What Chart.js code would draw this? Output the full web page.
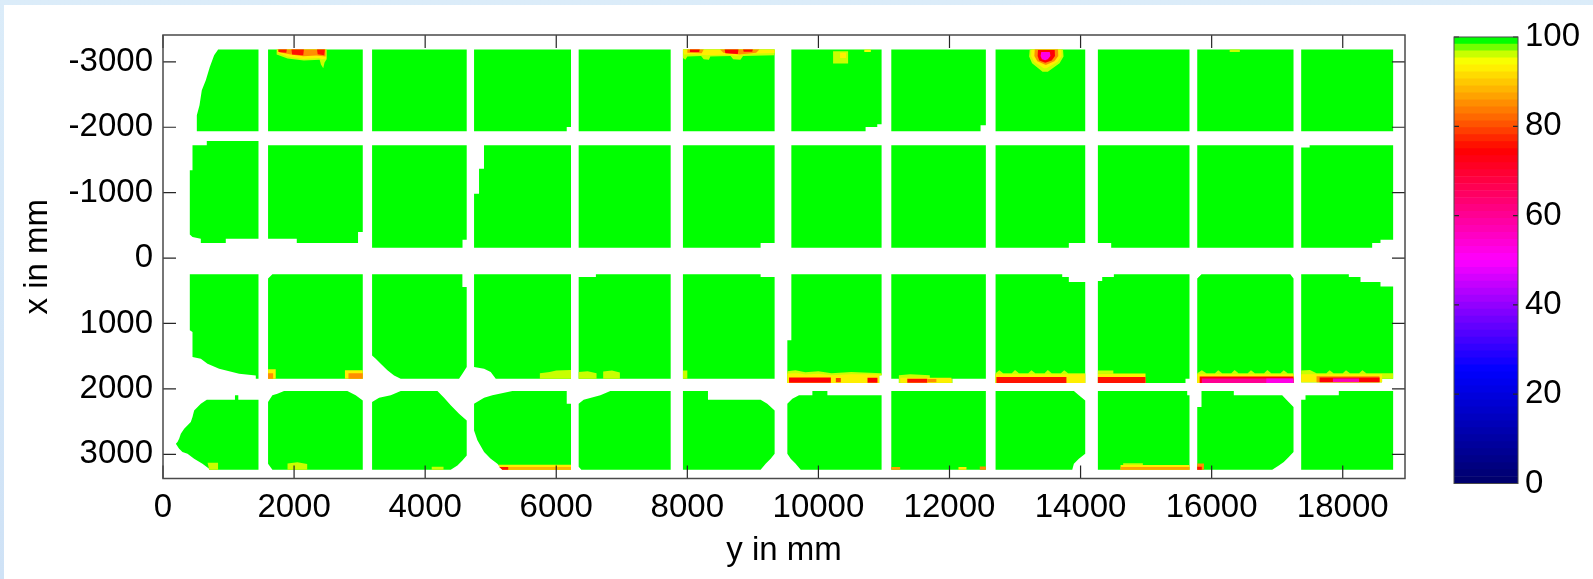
<!DOCTYPE html>
<html>
<head>
<meta charset="utf-8">
<script src="https://cdn.jsdelivr.net/npm/chart.js@4.4.1/dist/chart.umd.min.js"></script>
<style>
  html, body { margin: 0; padding: 0; }
  body {
    width: 1593px; height: 579px; overflow: hidden; position: relative;
    background: linear-gradient(180deg, #dbecf9 0%, #cfe2f6 100%);
  }
  #paper { position: absolute; left: 4px; top: 5px; right: 0; bottom: 0; background: #fff; }
  #map { position: absolute; left: 0; top: 0; }
  #cbar { position: absolute; left: 1440px; top: 0; }
</style>
</head>
<body>
<div id="paper"></div>
<canvas id="map" width="1440" height="579"></canvas>
<canvas id="cbar" width="153" height="579"></canvas>
<script>
// axes (mm): horizontal = y, vertical = x
const xTicks = [0, 2000, 4000, 6000, 8000, 10000, 12000, 14000, 16000, 18000];
const yTicks = [-3000, -2000, -1000, 0, 1000, 2000, 3000];
const cbarTicks = [0, 20, 40, 60, 80, 100];

// colormap
const cmapValues = [0, 25, 38, 50, 62, 75, 81, 88, 95, 97.5, 100];
const cmapColors = ['#00006e', '#0000ff', '#8000ff', '#ff00ff', '#ff0080', '#ff0000',
                    '#ff5500', '#ffaa00', '#ffff00', '#b4ff00', '#00ff00'];
const cmapLevels = 64;

// panel outlines, flat lists of (y, x) pairs in mm, value 100 everywhere
const row1Panels = [
  [841,-3190, 1457,-3190, 1457,-1937, 516,-1937, 516,-2182, 557,-2335, 592,-2564, 653,-2717, 714,-2921, 780,-3099],
  [1603,-3190, 3048,-3190, 3048,-1937, 1603,-1937],
  [3190,-3190, 4634,-3190, 4634,-1937, 3190,-1937],
  [4746,-3190, 6225,-3190, 6225,-2003, 6160,-2003, 6160,-1937, 4746,-1937],
  [6342,-3190, 7746,-3190, 7746,-1937, 6342,-1937],
  [7933,-3190, 9332,-3190, 9332,-1937, 7933,-1937],
  [9587,-3190, 10964,-3190, 10964,-2044, 10898,-2044, 10898,-2003, 10720,-2003, 10720,-1937, 9587,-1937],
  [11112,-3190, 12555,-3190, 12555,-2030, 12474,-2030, 12474,-1937, 11112,-1937],
  [12703,-3190, 14071,-3190, 14071,-1937, 12703,-1937],
  [14264,-3190, 15662,-3190, 15662,-1937, 14264,-1937],
  [15780,-3190, 17249,-3190, 17249,-1937, 15780,-1937],
  [17366,-3190, 18769,-3190, 18769,-1937, 17366,-1937]
];
const row2Panels = [
  [668,-1789, 1457,-1789, 1457,-296, 958,-296, 958,-229, 577,-229, 577,-296, 450,-321, 409,-362, 409,-1341, 450,-1341, 450,-1723, 668,-1723],
  [1603,-1723, 3048,-1723, 3048,-398, 2976,-398, 2976,-229, 2041,-229, 2041,-296, 1603,-296],
  [3190,-1723, 4634,-1723, 4634,-281, 4570,-281, 4570,-159, 3190,-159],
  [4898,-1723, 6225,-1723, 6225,-159, 4746,-159, 4746,-985, 4822,-985, 4822,-1367, 4898,-1367],
  [6342,-1723, 7746,-1723, 7746,-159, 6342,-159],
  [7933,-1723, 9332,-1723, 9332,-229, 9118,-229, 9118,-159, 7933,-159],
  [9587,-1723, 10964,-1723, 10964,-159, 9587,-159],
  [11112,-1723, 12555,-1723, 12555,-159, 11112,-159],
  [12703,-1723, 14071,-1723, 14071,-229, 13821,-229, 13821,-159, 12703,-159],
  [14264,-1723, 15662,-1723, 15662,-159, 14467,-159, 14467,-229, 14264,-229],
  [15780,-1723, 17249,-1723, 17249,-159, 15780,-159],
  [17495,-1723, 18769,-1723, 18769,-281, 18576,-281, 18576,-229, 18449,-229, 18449,-159, 17366,-159, 17366,-1690, 17495,-1690]
];
const row3Panels = [
  [409,249, 1457,249, 1457,1844, 1416,1844, 1416,1794, 1162,1768, 857,1691, 679,1615, 577,1539, 450,1514, 450,1131, 409,1105],
  [1669,249, 3048,249, 3048,1844, 1603,1844, 1603,312],
  [3190,249, 4568,249, 4568,443, 4634,443, 4634,1666, 4568,1768, 4517,1844, 3627,1844, 3526,1794, 3424,1717, 3322,1615, 3246,1539, 3190,1488],
  [4746,249, 6225,249, 6225,1844, 5077,1844, 5000,1742, 4899,1691, 4746,1666],
  [6605,249, 7746,249, 7746,1844, 6342,1844, 6342,290, 6605,290],
  [7933,249, 9118,249, 9118,290, 9332,290, 9332,1844, 7933,1844],
  [9587,249, 10964,249, 10964,1790, 10927,1790, 10927,1910, 9526,1910, 9526,1258, 9587,1258],
  [11112,249, 12555,249, 12555,1844, 12043,1844, 12043,1910, 11228,1910, 11228,1844, 11112,1844],
  [12703,249, 13720,249, 13720,290, 13821,290, 13821,367, 14071,367, 14071,1910, 12703,1910],
  [14508,249, 15662,249, 15662,1844, 15601,1844, 15601,1910, 14264,1910, 14264,350, 14330,350, 14330,290, 14508,290],
  [15845,249, 17200,249, 17249,312, 17249,1910, 15780,1910, 15780,312],
  [17366,249, 18093,249, 18093,290, 18271,290, 18271,367, 18576,367, 18576,433, 18769,433, 18769,1844, 18600,1844, 18600,1900, 17366,1900]
];
const row4Panels = [
  [668,2165, 1098,2165, 1098,2099, 1149,2099, 1149,2165, 1457,2165, 1457,3236, 704,3236, 704,3220, 602,3144, 475,3067, 374,2991, 297,2966, 246,2914, 196,2838, 221,2813, 246,2762, 272,2685, 323,2609, 424,2507, 450,2431, 475,2329, 577,2226],
  [1847,2034, 2813,2034, 2940,2099, 3048,2176, 3048,3236, 1669,3236, 1603,3144, 1603,2201, 1669,2099, 1745,2074],
  [3627,2034, 4187,2034, 4288,2135, 4390,2252, 4517,2380, 4634,2482, 4634,3017, 4568,3093, 4492,3170, 4390,3236, 3190,3236, 3190,2201, 3297,2135, 3475,2099],
  [5331,2034, 6160,2034, 6160,2226, 6225,2226, 6225,3236, 5178,3236, 5102,3144, 5000,3067, 4899,2966, 4797,2787, 4746,2635, 4746,2226, 4899,2135, 5026,2099],
  [6825,2034, 7746,2034, 7746,3236, 6383,3236, 6342,3190, 6342,2226, 6418,2165, 6673,2099],
  [7933,2034, 8315,2034, 8315,2165, 9118,2165, 9220,2226, 9332,2329, 9332,2991, 9271,3067, 9195,3144, 9118,3236, 7933,3236],
  [9704,2099, 9908,2099, 9908,2034, 10137,2034, 10137,2099, 10964,2099, 10964,3236, 9730,3236, 9653,3144, 9577,3067, 9526,2991, 9526,2226, 9602,2150],
  [11112,2034, 12555,2034, 12555,3236, 11112,3236],
  [12703,2034, 13898,2034, 13974,2099, 14071,2176, 14071,2991, 13974,3067, 13898,3144, 13873,3236, 12703,3236],
  [14264,2034, 15627,2034, 15627,2099, 15662,2099, 15662,3236, 14264,3236],
  [15845,2034, 16338,2034, 16338,2099, 17076,2099, 17152,2176, 17249,2278, 17249,2966, 17177,3042, 17101,3119, 17025,3170, 16924,3236, 15780,3236, 15780,2278, 15845,2278],
  [17940,2034, 18769,2034, 18769,3236, 17366,3236, 17366,2165, 17432,2165, 17432,2099, 17940,2099]
];

// low-value patches: [value, outline], painted in this order
const defects = [
  // panel row 1
  [97, [1734,-3190, 2497,-3190, 2497,-3040, 2465,-2990, 2445,-2900, 2410,-2960, 2390,-3030, 2150,-3020, 1900,-3050, 1734,-3110]],
  [93, [1740,-3190, 2490,-3190, 2490,-3050, 2420,-3040, 2380,-3060, 2140,-3045, 1900,-3080, 1750,-3140]],
  [86, [1750,-3190, 2480,-3190, 2480,-3080, 2340,-3095, 2140,-3085, 1950,-3110, 1760,-3150]],
  [76, [1760,-3190, 1890,-3190, 1880,-3140, 1765,-3150]],
  [76, [1960,-3190, 2150,-3190, 2140,-3100, 1970,-3110]],
  [76, [2350,-3190, 2470,-3190, 2460,-3100, 2360,-3115]],
  [97, [7933,-3190, 9332,-3190, 9332,-3100, 8850,-3090, 8810,-3030, 8700,-3040, 8660,-3090, 8350,-3080, 8330,-3030, 8250,-3040, 8210,-3090, 8000,-3080, 7970,-3030, 7933,-3060]],
  [93, [7933,-3190, 9332,-3190, 9332,-3135, 8900,-3125, 8750,-3090, 8600,-3110, 8300,-3100, 8100,-3115, 7950,-3110]],
  [86, [8000,-3190, 8250,-3190, 8220,-3130, 8000,-3140]],
  [86, [8500,-3190, 9100,-3190, 9050,-3140, 8800,-3110, 8550,-3140]],
  [75, [8040,-3190, 8190,-3190, 8180,-3150, 8040,-3150]],
  [74, [8570,-3190, 8780,-3190, 8770,-3120, 8580,-3130]],
  [75, [8850,-3190, 9000,-3190, 8990,-3155, 8860,-3155]],
  [97, [10224,-3160, 10453,-3160, 10453,-2975, 10224,-2975]],
  [94, [10330,-3140, 10420,-3140, 10420,-3060, 10330,-3060]],
  [96, [10700,-3190, 10800,-3190, 10800,-3150, 10700,-3150]],
  [97, [13224,-3190, 13732,-3190, 13740,-3080, 13680,-2980, 13500,-2850, 13420,-2850, 13260,-2980, 13215,-3080]],
  [93, [13250,-3190, 13707,-3190, 13710,-3090, 13650,-3000, 13480,-2900, 13440,-2900, 13290,-3000, 13245,-3090]],
  [86, [13301,-3190, 13656,-3190, 13660,-3090, 13600,-3010, 13470,-2950, 13340,-3010, 13295,-3090]],
  [75, [13351,-3180, 13605,-3180, 13610,-3090, 13560,-3020, 13460,-2985, 13370,-3020, 13345,-3090]],
  [52, [13400,-3150, 13530,-3150, 13540,-3090, 13500,-3040, 13460,-3025, 13410,-3040, 13390,-3090]],
  [97, [16275,-3190, 16430,-3190, 16430,-3150, 16275,-3150]],
  // panel row 3
  [93, [1603,1700, 1720,1700, 1720,1844, 1603,1844]],
  [85, [1603,1760, 1680,1760, 1680,1844, 1603,1844]],
  [93, [2776,1715, 3048,1715, 3048,1844, 2776,1844]],
  [85, [2830,1760, 3048,1760, 3048,1844, 2830,1844]],
  [97, [5750,1844, 5750,1760, 5900,1740, 6000,1720, 6225,1710, 6225,1844]],
  [97, [6342,1740, 6480,1730, 6615,1760, 6615,1844, 6342,1844]],
  [97, [6716,1735, 6850,1720, 6971,1750, 6971,1844, 6716,1844]],
  [97, [7933,1720, 8000,1720, 8000,1844, 7933,1844]],
  [97, [9526,1730, 9650,1715, 9800,1745, 10000,1730, 10200,1760, 10500,1740, 10964,1760, 10964,1790, 10927,1790, 10927,1910, 9526,1910]],
  [93, [9526,1765, 9700,1760, 9800,1780, 10000,1770, 10200,1790, 10500,1775, 10964,1780, 10964,1790, 10927,1790, 10927,1910, 9526,1910]],
  [75, [9552,1825, 10190,1825, 10190,1905, 9552,1905]],
  [80, [10266,1835, 10342,1835, 10342,1900, 10266,1900]],
  [75, [10749,1830, 10901,1830, 10901,1905, 10749,1905]],
  [97, [11228,1790, 11400,1775, 11700,1790, 11700,1844, 12043,1844, 12043,1910, 11228,1910]],
  [93, [11250,1830, 12030,1830, 12030,1905, 11250,1905]],
  [76, [11356,1845, 11661,1845, 11661,1905, 11356,1905]],
  [86, [11661,1850, 11800,1850, 11800,1900, 11661,1900]],
  [97, [12703,1760, 12760,1715, 12820,1760, 12950,1760, 13000,1712, 13060,1760, 13200,1760, 13250,1715, 13310,1760, 13450,1760, 13500,1712, 13560,1760, 13700,1760, 13750,1715, 13810,1760, 14071,1760, 14071,1910, 12703,1910]],
  [93, [12703,1775, 14071,1775, 14071,1910, 12703,1910]],
  [76, [12716,1820, 13784,1820, 13784,1910, 12716,1910]],
  [97, [14264,1720, 14500,1720, 14500,1770, 14264,1770]],
  [93, [14264,1765, 14991,1765, 14991,1910, 14264,1910]],
  [76, [14264,1820, 14991,1820, 14991,1910, 14264,1910]],
  [97, [15780,1760, 15850,1715, 15920,1760, 16050,1760, 16100,1715, 16160,1760, 16300,1760, 16350,1712, 16410,1760, 16550,1760, 16600,1715, 16660,1760, 16800,1760, 16850,1712, 16910,1760, 17050,1760, 17100,1715, 17160,1760, 17249,1760, 17249,1910, 15780,1910]],
  [93, [15780,1775, 17249,1775, 17249,1910, 15780,1910]],
  [74, [15817,1810, 17249,1810, 17249,1910, 15817,1910]],
  [60, [15850,1840, 17249,1840, 17249,1910, 15850,1910]],
  [52, [16834,1842, 17249,1842, 17249,1910, 16834,1910]],
  [97, [17366,1720, 17500,1710, 17600,1760, 17750,1760, 17800,1715, 17860,1760, 18000,1760, 18050,1715, 18110,1760, 18250,1760, 18300,1715, 18360,1760, 18769,1760, 18769,1844, 18600,1844, 18600,1900, 17366,1900]],
  [93, [17366,1775, 18600,1775, 18600,1900, 17366,1900]],
  [86, [17600,1805, 18560,1805, 18560,1900, 17600,1900]],
  [75, [17647,1825, 18563,1825, 18563,1900, 17647,1900]],
  [57, [17850,1840, 18250,1840, 18250,1895, 17850,1895]],
  // panel row 4
  [97, [680,3130, 840,3130, 840,3236, 704,3236]],
  [97, [1900,3140, 2050,3120, 2200,3150, 2200,3236, 1900,3236]],
  [97, [4100,3190, 4280,3190, 4280,3236, 4100,3236]],
  [93, [5110,3160, 6225,3160, 6225,3236, 5178,3236]],
  [89, [5130,3195, 6225,3195, 6225,3236, 5178,3236]],
  [76, [5130,3195, 5267,3195, 5267,3236, 5178,3236]],
  [88, [11112,3195, 11247,3195, 11247,3236, 11112,3236]],
  [93, [12137,3195, 12259,3195, 12259,3236, 12137,3236]],
  [86, [12462,3185, 12555,3185, 12555,3236, 12462,3236]],
  [97, [14650,3135, 14950,3135, 14950,3180, 14650,3180]],
  [93, [14610,3165, 15662,3165, 15662,3236, 14610,3236]],
  [87, [14610,3195, 15662,3195, 15662,3236, 14610,3236]],
  [86, [15780,3140, 15882,3140, 15882,3236, 15780,3236]],
  [76, [15780,3190, 15850,3190, 15850,3236, 15780,3236]]
];

function hexToRgb(h) {
  return [parseInt(h.slice(1, 3), 16), parseInt(h.slice(3, 5), 16), parseInt(h.slice(5, 7), 16)];
}
function cmap(v) {
  let i = 0;
  while (i < cmapValues.length - 2 && v > cmapValues[i + 1]) i++;
  const t = Math.min(1, Math.max(0, (v - cmapValues[i]) / (cmapValues[i + 1] - cmapValues[i])));
  const a = hexToRgb(cmapColors[i]), b = hexToRgb(cmapColors[i + 1]);
  const c = a.map((ch, k) => Math.round(ch + (b[k] - ch) * t));
  return `rgb(${c[0]},${c[1]},${c[2]})`;
}
// quantised like a 64-entry colormap
function valueColor(v) {
  const level = Math.round(v / 100 * (cmapLevels - 1));
  return cmap(level / (cmapLevels - 1) * 100);
}
function toPoints(flat) {
  const pts = [];
  for (let i = 0; i < flat.length; i += 2) pts.push({ x: flat[i], y: flat[i + 1] });
  return pts;
}

const font = { family: "'Liberation Sans', Arial, Helvetica, sans-serif", size: 33, lineHeight: 1 };

// box with inward ticks, matlab style
const boxTicks = {
  id: 'boxTicks',
  afterDraw(chart) {
    const { ctx, chartArea: a } = chart;
    const o = chart.options.plugins.boxTicks;
    ctx.save();
    ctx.strokeStyle = '#262626';
    ctx.lineWidth = 1.2;
    ctx.beginPath();
    if (o.xTicks) o.xTicks.forEach(v => {
      const px = chart.scales.x.getPixelForValue(v);
      ctx.moveTo(px, a.bottom); ctx.lineTo(px, a.bottom - o.len);
      ctx.moveTo(px, a.top); ctx.lineTo(px, a.top + o.len);
    });
    o.yTicks.forEach(v => {
      const py = chart.scales.y.getPixelForValue(v);
      ctx.moveTo(a.left, py); ctx.lineTo(a.left + o.len, py);
      ctx.moveTo(a.right, py); ctx.lineTo(a.right - o.len, py);
    });
    ctx.stroke();
    ctx.strokeStyle = '#4a4a4a';
    ctx.lineWidth = o.border;
    ctx.strokeRect(a.left, a.top, a.right - a.left, a.bottom - a.top);
    ctx.restore();
  }
};

document.addEventListener('DOMContentLoaded', function() {
  const layers = [];
  [row1Panels, row2Panels, row3Panels, row4Panels].forEach(row => {
    row.forEach(p => layers.push({ value: 100, pts: p }));
  });
  defects.forEach(d => layers.push({ value: d[0], pts: d[1] }));

  const datasets = layers.map((l, i) => ({
    data: toPoints(l.pts),
    backgroundColor: valueColor(l.value),
    fill: 'shape',
    borderWidth: 0,
    pointRadius: 0,
    pointHoverRadius: 0,
    tension: 0,
    order: -i
  }));

  new Chart(document.getElementById('map'), {
    type: 'line',
    data: { datasets },
    options: {
      responsive: false,
      animation: false,
      devicePixelRatio: 1,
      events: [],
      layout: { padding: { left: 0, top: 35, right: 35, bottom: 0 } },
      plugins: {
        legend: { display: false },
        tooltip: { enabled: false },
        boxTicks: { xTicks, yTicks, len: 13, border: 1.5 }
      },
      scales: {
        x: {
          type: 'linear',
          min: 0,
          max: 18950,
          grid: { display: false, drawTicks: false },
          border: { display: false },
          afterBuildTicks: s => { s.ticks = xTicks.map(v => ({ value: v })); },
          afterFit: s => { s.height = 100.5; },
          ticks: { font, color: '#000', padding: 13, maxRotation: 0, autoSkip: false, callback: v => String(v) },
          title: { display: true, text: 'y in mm', font, color: '#000', padding: { top: 0, bottom: 12 } }
        },
        y: {
          type: 'linear',
          reverse: true,
          min: -3410,
          max: 3370,
          grid: { display: false, drawTicks: false },
          border: { display: false },
          afterBuildTicks: s => { s.ticks = yTicks.map(v => ({ value: v })); },
          afterFit: s => { s.width = 163; },
          ticks: { font, color: '#000', padding: 10, autoSkip: false, callback: v => String(v) },
          title: { display: true, text: 'x in mm', font, color: '#000', padding: { top: 21, bottom: 0 } }
        }
      }
    },
    plugins: [boxTicks]
  });

  // colour bar
  const bands = [];
  for (let i = 0; i < cmapLevels; i++) {
    bands.push({
      data: [100 / cmapLevels],
      backgroundColor: cmap(i / (cmapLevels - 1) * 100),
      borderWidth: 0,
      barPercentage: 1,
      categoryPercentage: 1
    });
  }
  new Chart(document.getElementById('cbar'), {
    type: 'bar',
    data: { labels: [''], datasets: bands },
    options: {
      responsive: false,
      animation: false,
      devicePixelRatio: 1,
      events: [],
      layout: { padding: { left: 14, top: 37, right: 0, bottom: 95.5 } },
      plugins: {
        legend: { display: false },
        tooltip: { enabled: false },
        boxTicks: { yTicks: cbarTicks, len: 5, border: 1 }
      },
      scales: {
        x: { display: false, stacked: true },
        y: {
          position: 'right',
          stacked: true,
          min: 0,
          max: 100,
          grid: { display: false, drawTicks: false },
          border: { display: false },
          afterBuildTicks: s => { s.ticks = cbarTicks.map(v => ({ value: v })); },
          afterFit: s => { s.width = 75; },
          ticks: { font, color: '#000', padding: 7, callback: v => String(v) }
        }
      }
    },
    plugins: [boxTicks]
  });
});
</script>
</body>
</html>
